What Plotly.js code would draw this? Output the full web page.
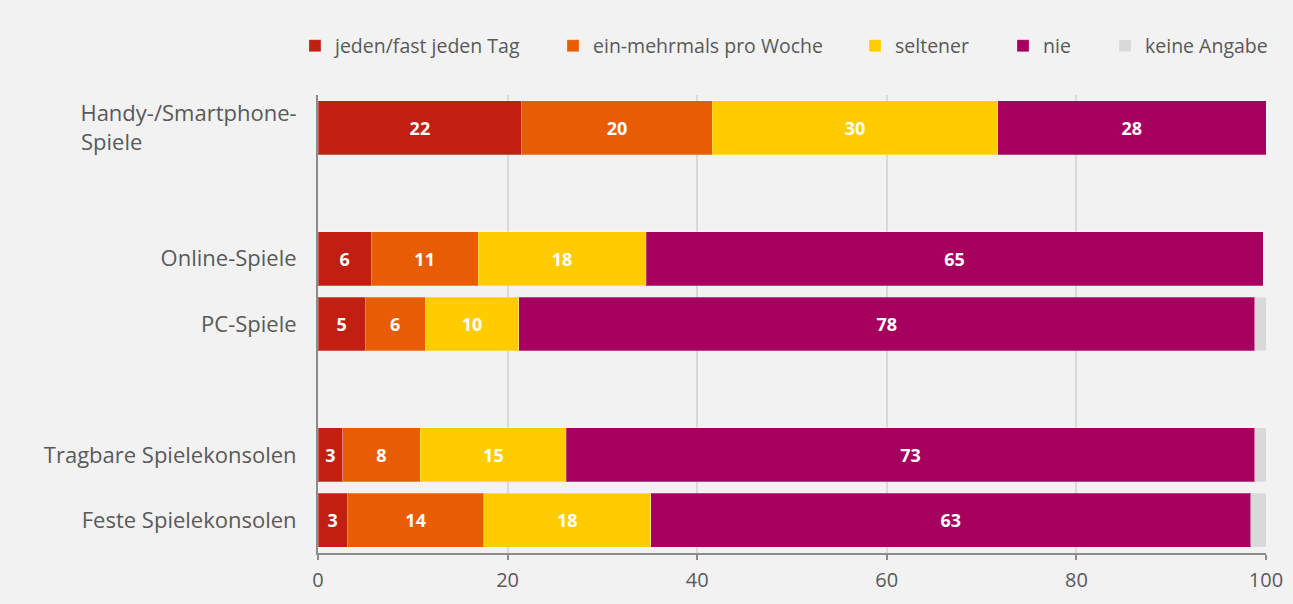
<!DOCTYPE html>
<html>
<head>
<meta charset="utf-8">
<script src="https://cdn.plot.ly/plotly-3.0.1.min.js"></script>
<style>html,body{margin:0;padding:0;background:#f2f2f2;}#chart{width:1293px;height:604px;}</style>
</head>
<body>
<div id="chart"></div>
<script>
const categories = ["Handy-/Smartphone-<br>Spiele" + "\u00a0".repeat(27), " ", "Online-Spiele", "PC-Spiele", "  ", "Tragbare Spielekonsolen", "Feste Spielekonsolen"];
const rows = [categories[0], categories[2], categories[3], categories[5], categories[6]];
const seriesNames = ["jeden/fast jeden Tag", "ein-mehrmals pro Woche", "seltener", "nie", "keine Angabe"];
const daily   = [21.5, 5.6, 5.0, 2.6, 3.1];
const weekly  = [20.1, 11.3, 6.3, 8.2, 14.4];
const rarely  = [30.1, 17.7, 9.9, 15.4, 17.6];
const never   = [28.3, 65.1, 77.6, 72.6, 63.3];
const noAnswer = [0, 0, 1.2, 1.4, 1.6];
const colors = ["#c01f12", "#e85d04", "#ffcc00", "#a6005e", "#d9d9d9"];
const tickVals = [0, 20, 40, 60, 80, 100];

const FONT = "Open Sans, Noto Sans, sans-serif";
const allSeries = [daily, weekly, rarely, never, noAnswer];
const legendIds = ["legend", "legend2", "legend3", "legend4", "legend5"];
const legendX = [-0.0243, 0.2479, 0.5665, 0.7226, 0.8302];

const traces = allSeries.map((vals, i) => ({
  type: "bar",
  orientation: "h",
  name: seriesNames[i],
  legend: legendIds[i],
  y: rows,
  x: vals,
  marker: {color: colors[i], line: {color: "rgba(255,255,255,0.25)", width: 1}},
  texttemplate: i < 4 ? "<b>%{x:.0f}</b>" : "",
  textposition: i < 4 ? "inside" : "none",
  insidetextanchor: "middle",
  textangle: 0,
  textfont: {color: "#ffffff", size: 18, family: FONT},
  hoverinfo: "skip"
}));

const layout = {
  width: 1293, height: 604,
  paper_bgcolor: "#f2f2f2", plot_bgcolor: "#f2f2f2",
  margin: {l: 318, r: 27, t: 95, b: 51, autoexpand: false},
  barmode: "stack",
  bargap: 0.175,
  font: {family: FONT, color: "#595959"},
  showlegend: true,
  xaxis: {range: [0, 100], tickvals: tickVals, showgrid: true, gridcolor: "#d9d9d9", gridwidth: 2,
          zeroline: false, showline: true, linecolor: "#8c8c8c", linewidth: 2,
          ticks: "outside", ticklen: 5, tickcolor: "#8c8c8c", tickwidth: 2,
          tickfont: {size: 20, color: "#595959"}, ticklabelstandoff: 3, fixedrange: true},
  yaxis: {type: "category", categoryorder: "array", categoryarray: categories,
          range: [6.5, -0.5], showgrid: false, zeroline: false, showline: true,
          linecolor: "#8c8c8c", linewidth: 2, ticks: "", tickfont: {size: 22, color: "#595959"},
          ticklabelstandoff: 15, fixedrange: true}
};
legendIds.forEach((id, i) => {
  layout[id] = {orientation: "h", x: legendX[i], xanchor: "left", y: 1.107, yanchor: "middle",
                font: {size: 19.5, color: "#595959", family: FONT}, bgcolor: "rgba(0,0,0,0)"};
});
Plotly.newPlot("chart", traces, layout, {displayModeBar: false, staticPlot: true});
</script>
</body>
</html>
